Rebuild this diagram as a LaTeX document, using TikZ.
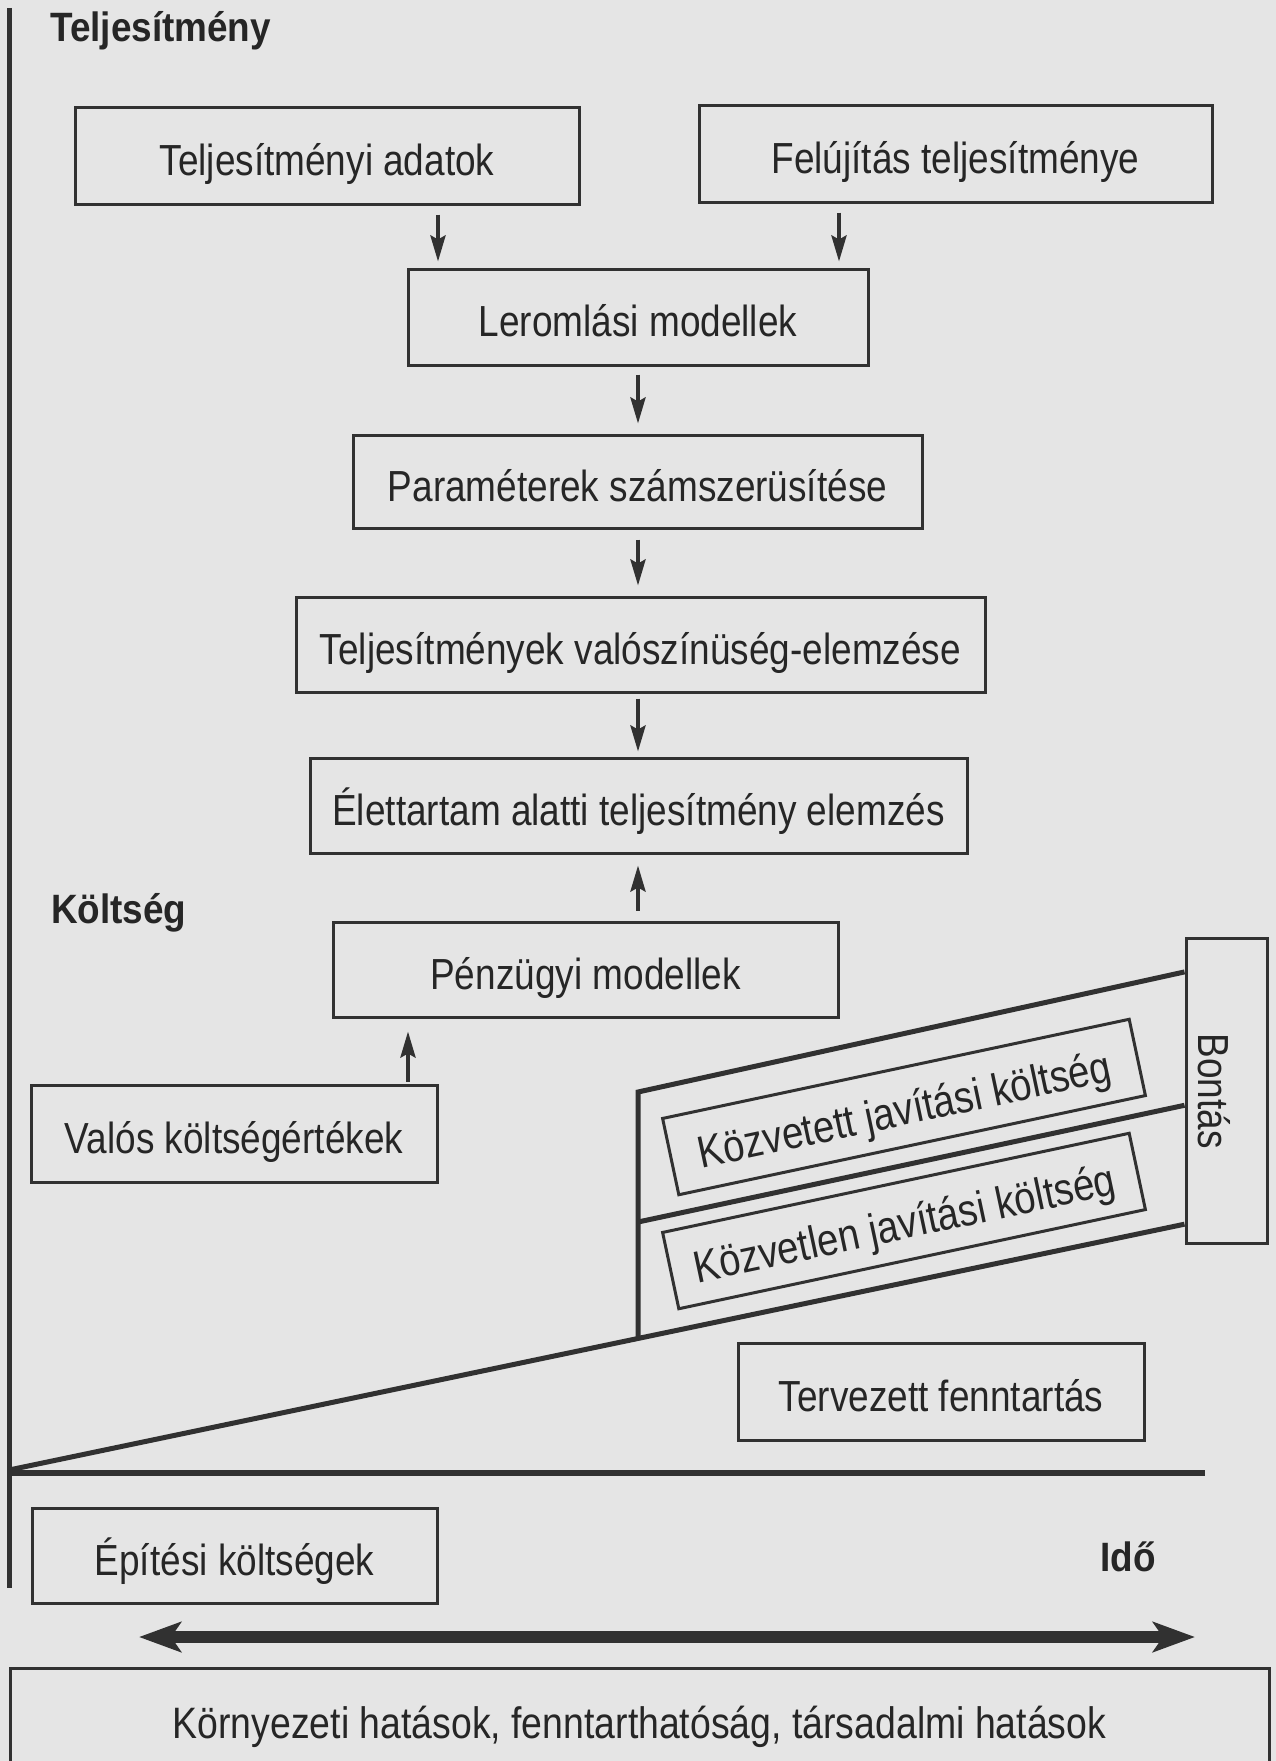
\documentclass[tikz,border=0pt]{standalone}
\usepackage{fontspec}
\setmainfont{Liberation Sans}
\newfontfamily\narrowsans[FakeStretch=0.85]{Liberation Sans}
\newfontfamily\narrowbold[FakeStretch=0.9]{Liberation Sans Bold}
\usetikzlibrary{arrows.meta,calc}
\definecolor{lc}{HTML}{313131}
\definecolor{tc}{HTML}{262626}
\definecolor{bg}{HTML}{E5E5E5}
\begin{document}
\begin{tikzpicture}[x=1pt,y=1pt,
  box/.style={draw=lc, line width=3pt, inner sep=0pt, text=tc, text height=39pt, text depth=0pt,
    font=\narrowsans\fontsize{43.5}{46}\selectfont},
  lbl/.style={text=tc, inner sep=0pt, font=\narrowbold\fontsize{41}{44}\selectfont, anchor=base west},
  arr/.style={draw=lc, line width=4pt, -{Stealth[length=26pt,width=15pt,inset=4pt]}},
  heavy/.style={draw=lc, line width=5pt, line join=miter},
  timearrow/.style={draw=lc, line width=12pt,
    {Stealth[length=42pt,width=30pt,inset=10pt]}-{Stealth[length=42pt,width=30pt,inset=10pt]}}
]
\fill[bg] (0,0) rectangle (1276,-1761);
\useasboundingbox (0,0) rectangle (1276,-1761);

% axis labels
\node[lbl] (perf) at (50,-42) {Teljesítmény};
\node[lbl] (cost) at (51,-923) {Költség};
\node[lbl] (time) at (1100,-1571) {Idő};

% performance chain
\node[box, minimum width=504, minimum height=97] (tadat) at (327,-155.5) {Teljesítményi adatok};
\node[box, minimum width=513, minimum height=97] (felu) at (955.5,-153.5) {Felújítás teljesítménye};
\node[box, minimum width=460, minimum height=96] (lerom) at (638,-317) {Leromlási modellek};
\node[box, minimum width=569, minimum height=93] (param) at (637.5,-481.5) {Paraméterek számszerüsítése};
\node[box, minimum width=689, minimum height=95] (valsz) at (640.5,-644.5) {Teljesítmények valószínüség-elemzése};
\node[box, minimum width=657, minimum height=95] (elett) at (638.5,-805.5) {Élettartam alatti teljesítmény elemzés};

% cost part
\node[box, minimum width=505, minimum height=95] (penz) at (585.5,-969.5) {Pénzügyi modellek};
\node[box, minimum width=406, minimum height=97] (valos) at (234,-1133.5) {Valós költségértékek};
\node[box, minimum width=405, minimum height=95] (epit) at (234.5,-1555.5) {Építési költségek};
\node[box, minimum width=406, minimum height=97] (terv) at (941,-1391.5) {Tervezett fenntartás};
\node[draw=lc, line width=3pt, inner sep=0pt, minimum width=81, minimum height=305] (bontas) at (1226.5,-1090.5) {};
\node[text=tc, inner sep=0pt, rotate=-90, anchor=base, font=\narrowsans\fontsize{43.5}{46}\selectfont] (bontasT) at (1198,-1091) {Bontás};
\node[box, rotate=12, minimum width=477, minimum height=78, text height=36pt,
  font=\narrowsans\fontsize{45}{48}\selectfont] (kozvetett) at (904,-1107) {Közvetett javítási költség};
\node[box, rotate=12, minimum width=477, minimum height=78, text height=36pt,
  font=\narrowsans\fontsize{45}{48}\selectfont] (kozvetlen) at (904,-1221) {Közvetlen javítási költség};
\node[box, anchor=base, minimum width=1259, text height=70pt, text depth=120pt,
  font=\narrowsans\fontsize{44}{46}\selectfont] (korny) at (639.5,-1738) {Környezeti hatások, fenntarthatóság, társadalmi hatások};

% arrow x positions
\coordinate (xa) at (438,0);
\coordinate (xb) at (839,0);
\coordinate (xc) at (638,0);
\coordinate (xd) at (408,0);

\draw[arr, shorten <=9pt, shorten >=6pt] (tadat.south -| xa) -- (lerom.north -| xa);
\draw[arr, shorten <=9pt, shorten >=6pt] (felu.south -| xb) -- (lerom.north -| xb);
\draw[arr, shorten <=8pt, shorten >=10pt] (lerom.south -| xc) -- (param.north -| xc);
\draw[arr, shorten <=10pt, shorten >=10pt] (param.south -| xc) -- (valsz.north -| xc);
\draw[arr, shorten <=5pt, shorten >=5pt] (valsz.south -| xc) -- (elett.north -| xc);
\draw[arr, shorten <=10pt, shorten >=11pt] (penz.north -| xc) -- (elett.south -| xc);
\draw[arr, shorten <=2pt, shorten >=13pt] (valos.north -| xd) -- (penz.south -| xd);

% axes
\coordinate (ax0) at (9,-8);
\coordinate (ax1) at (9,-1588);
\coordinate (hx0) at (9,-1473);
\coordinate (hx1) at (1205,-1473);
\draw[draw=lc, line width=5pt] (ax0) -- (ax1);
\draw[draw=lc, line width=6pt] (hx0) -- (hx1);

% cost build-up lines
\coordinate (o) at (9,-1470);
\coordinate (k1) at (638,-1092);
\coordinate (k2) at (638,-1222);
\coordinate (k3) at (638,-1338);
\coordinate (b1) at ($(bontas.north west)!0.115!(bontas.south west)$);
\coordinate (b2) at ($(bontas.north west)!0.548!(bontas.south west)$);
\coordinate (b3) at ($(bontas.north west)!0.934!(bontas.south west)$);
\draw[heavy] (o) -- (b3);
\draw[heavy] (b1) -- (k1) -- (k3);
\draw[heavy] (k2) -- (b2);

% time arrow
\coordinate (t0) at (139,-1637);
\coordinate (t1) at (1195,-1637);
\draw[timearrow] (t0) -- (t1);
\end{tikzpicture}
\end{document}
